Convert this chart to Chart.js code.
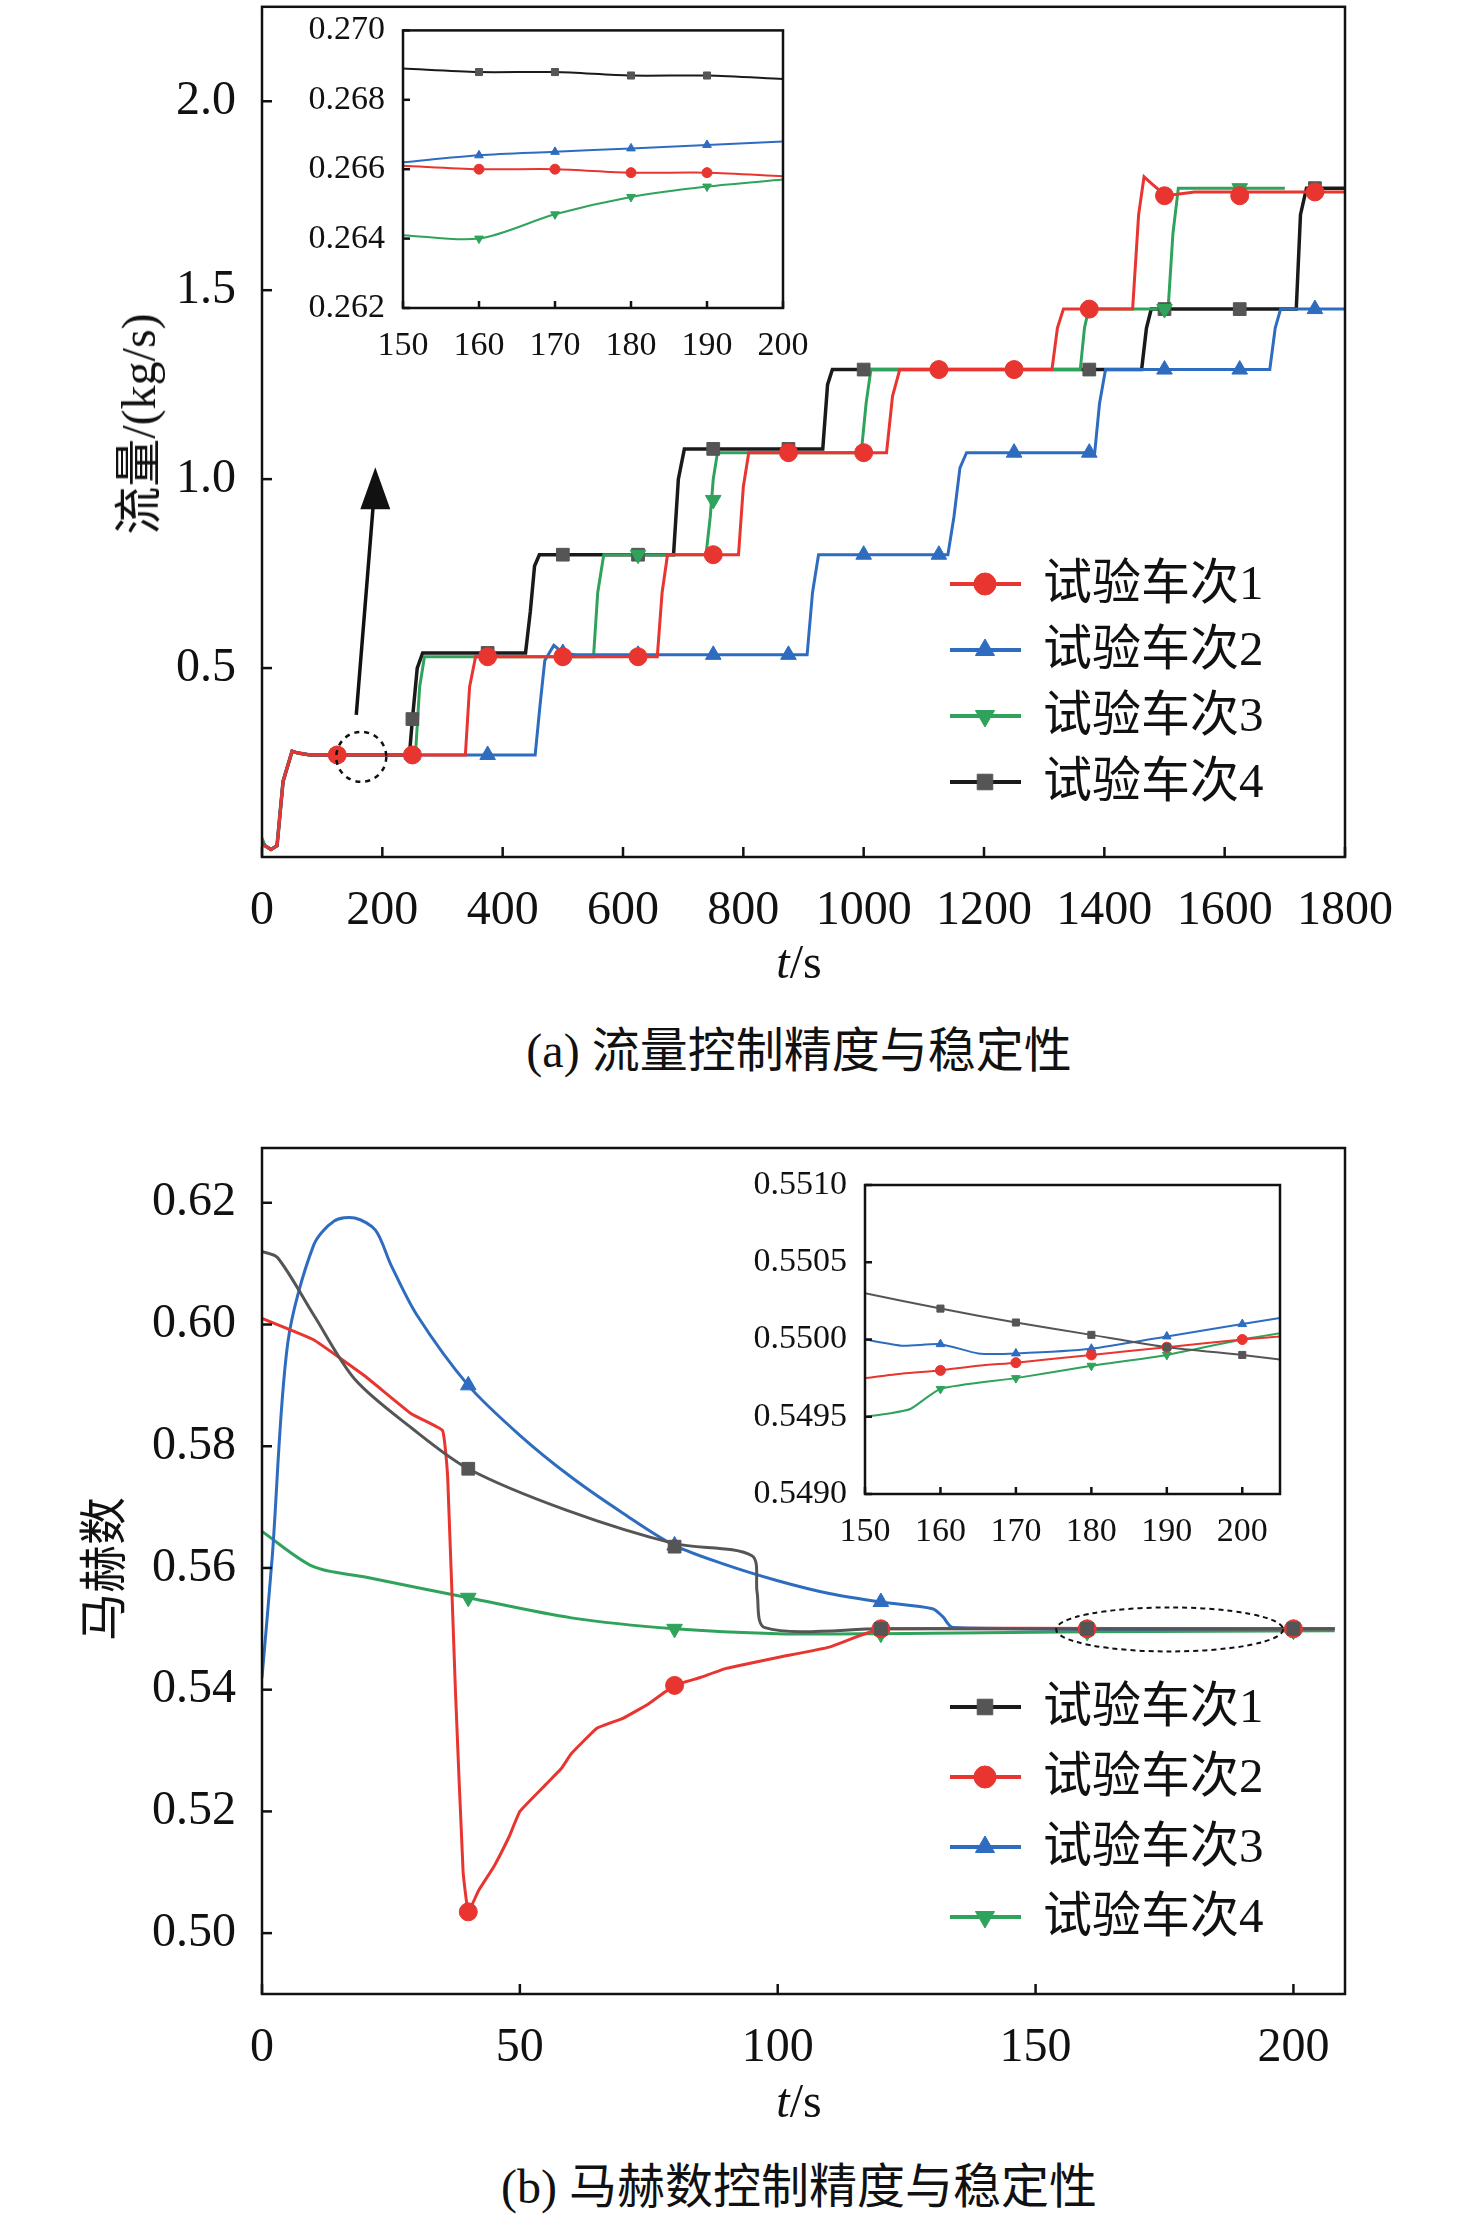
<!DOCTYPE html>
<html>
<head>
<meta charset="utf-8">
<script src="https://cdn.jsdelivr.net/npm/chart.js@4.4.0/dist/chart.umd.min.js"></script>
<style>
  body { margin: 0; width: 1476px; height: 2230px; background: #fff; position: relative; overflow: hidden; }
  canvas { position: absolute; }
  .txt { position: absolute; font-family: "Liberation Serif", "Noto Sans CJK SC", serif; font-size: 48px; color: #111; white-space: nowrap; transform: translate(-50%, -50%); }
</style>
</head>
<body>
<canvas id="flowMain" style="left:0;top:-40px;width:1476px;height:1000px"></canvas>
<canvas id="flowInset" style="left:283px;top:0;width:560px;height:360px"></canvas>
<canvas id="machMain" style="left:0;top:1100px;width:1476px;height:1000px"></canvas>
<canvas id="machInset" style="left:720px;top:1150px;width:620px;height:400px"></canvas>

<div class="txt" style="left:134px;top:424px;transform:translate(-50%,-50%) rotate(-90deg)">流量/(kg/s)</div>
<div class="txt" style="left:799px;top:961px"><i>t</i>/s</div>
<div class="txt" style="left:799px;top:1046px">(a) 流量控制精度与稳定性</div>
<div class="txt" style="left:99px;top:1569px;transform:translate(-50%,-50%) rotate(-90deg)">马赫数</div>
<div class="txt" style="left:799px;top:2100px"><i>t</i>/s</div>
<div class="txt" style="left:799px;top:2182px">(b) 马赫数控制精度与稳定性</div>

<script>
// ---- colours ----
const RED = '#e8352f', BLUE = '#2e6cc0', GREEN = '#2fa35b', BLACK = '#1a1a1a', GRAY = '#555555';

// ---- (a) flow, main ----
const flowLabels = ['试验车次1', '试验车次2', '试验车次3', '试验车次4'];
const flowT1 = [0,5,15,25,35,50,60,80,338,345,355,657,665,674,792,800,809,1038,1048,1060,1313,1322,1332,1447,1457,1466,1480,1502,1550,1800];
const flowV1 = [0.03,0.03,0.02,0.03,0.2,0.28,0.275,0.27,0.27,0.45,0.53,0.53,0.7,0.80,0.80,0.98,1.07,1.07,1.22,1.29,1.29,1.40,1.45,1.45,1.70,1.80,1.78,1.75,1.76,1.76];
const flowT2 = [0,5,15,25,35,50,60,80,454,462,470,485,500,520,906,915,925,1140,1150,1160,1171,1384,1392,1402,1675,1684,1693,1800];
const flowV2 = [0.04,0.03,0.02,0.03,0.2,0.28,0.275,0.27,0.27,0.40,0.52,0.56,0.54,0.535,0.535,0.70,0.80,0.80,0.90,1.03,1.07,1.07,1.20,1.29,1.29,1.40,1.45,1.45];
const flowT3 = [0,5,15,25,35,50,60,80,255,262,270,551,558,568,738,745,750,757,996,1004,1012,1360,1367,1374,1506,1514,1523,1700];
const flowV3 = [0.05,0.03,0.02,0.03,0.2,0.28,0.275,0.27,0.27,0.45,0.53,0.53,0.70,0.80,0.80,0.90,1.00,1.07,1.07,1.20,1.29,1.29,1.40,1.45,1.45,1.65,1.77,1.77];
const flowT4 = [0,5,15,25,35,50,60,80,245,250,258,267,438,446,453,461,684,692,702,932,940,948,1462,1470,1478,1719,1726,1736,1800];
const flowV4 = [0.04,0.03,0.02,0.03,0.2,0.28,0.275,0.27,0.27,0.365,0.50,0.54,0.54,0.65,0.77,0.80,0.80,1.00,1.08,1.08,1.25,1.29,1.29,1.40,1.45,1.45,1.70,1.77,1.77];
// markers every 125 s
const flowMarkT = [125,250,375,500,625,750,875,1000,1125,1250,1375,1500,1625,1750];
const flowMark1 = [0.27,0.27,0.53,0.53,0.53,0.80,1.07,1.07,1.29,1.29,1.45,1.75,1.75,1.76];
const flowMark2 = [0.27,0.27,0.27,0.54,0.535,0.535,0.535,0.80,0.80,1.07,1.07,1.29,1.29,1.45];
const flowMark3 = [0.27,0.27,0.53,0.53,0.80,0.945,1.07,1.07,1.29,1.29,1.45,1.45,1.77];
const flowMark4 = [0.27,0.365,0.54,0.80,0.80,1.08,1.08,1.29,1.29,1.29,1.29,1.45,1.45,1.77];
const flowXTicks = [0,200,400,600,800,1000,1200,1400,1600,1800];
const flowYTicks = [0.5,1.0,1.5,2.0];

// ---- (a) flow, inset 150-200 s ----
const fiT = [150,160,170,180,190,200];
const fi1 = [0.2661,0.2660,0.2660,0.2659,0.2659,0.2658];
const fi2 = [0.2662,0.2664,0.2665,0.2666,0.2667,0.2668];
const fi3 = [0.2641,0.2640,0.2647,0.2652,0.2655,0.2657];
const fi4 = [0.2689,0.2688,0.2688,0.2687,0.2687,0.2686];
const fiMarkT = [160,170,180,190];
const fiXTicks = [150,160,170,180,190,200];
const fiYTicks = [0.262,0.264,0.266,0.268,0.270];

// ---- (b) mach, main ----
const machT1 = [0,3,10,18,29,40,59,80,95,96,97.5,120,208];
const machV1 = [0.612,0.611,0.6016,0.591,0.583,0.5763,0.5695,0.564,0.562,0.556,0.5502,0.5500,0.5500];
const machT2 = [0,10,20,29,35,36,37.5,39,40,42,45,48,50,55,58,60,65,70,75,80,85,90,100,110,120,208];
const machV2 = [0.601,0.5975,0.5915,0.5853,0.5826,0.575,0.54,0.51,0.5035,0.507,0.511,0.516,0.520,0.5244,0.527,0.5295,0.5337,0.5353,0.5377,0.5407,0.542,0.5435,0.5453,0.547,0.550,0.550];
const machT3 = [0,2,5,10,14,18,22,25,30,40,50,60,70,80,90,100,110,120,130,132,134,208];
const machV3 = [0.542,0.562,0.597,0.613,0.617,0.6175,0.6155,0.6098,0.6016,0.590,0.5818,0.5749,0.569,0.5637,0.5605,0.5579,0.5558,0.5544,0.5533,0.552,0.5502,0.5500];
const machT4 = [0,10,20,40,60,80,100,120,160,208];
const machV4 = [0.566,0.5602,0.5585,0.5551,0.5518,0.5500,0.5492,0.5492,0.5495,0.5497];
const machMarkT = [40,80,120,160,200];
const machMark1 = [0.5763,0.5635,0.5500,0.5500,0.5500];
const machMark2 = [0.5035,0.5407,0.5500,0.5500,0.5500];
const machMark3 = [0.5900,0.5637,0.5544,0.5500,0.5500];
const machMark4 = [0.5551,0.5500,0.5492,0.5495,0.5497];
const machXTicks = [0,50,100,150,200];
const machYTicks = [0.50,0.52,0.54,0.56,0.58,0.60,0.62];

// ---- (b) mach, inset 150-205 s ----
const miT1 = [150,160,170,180,190,200,205];
const mi1 = [0.55030,0.55020,0.55011,0.55003,0.54995,0.54990,0.54987];
const miT2 = [150,155,160,165,170,180,190,200,205];
const mi2 = [0.54975,0.54978,0.54980,0.54983,0.54985,0.54990,0.54995,0.55000,0.55002];
const miT3 = [150,155,160,165,170,180,190,200,205];
const mi3 = [0.55000,0.54996,0.54997,0.54991,0.54991,0.54994,0.55002,0.55010,0.55014];
const miT4 = [150,153,156,160,170,180,190,200,205];
const mi4 = [0.54950,0.54952,0.54955,0.54968,0.54975,0.54983,0.54990,0.55000,0.55004];
const miMarkT = [160,170,180,190,200];
const miMark1 = [0.55020,0.55011,0.55003,0.54995,0.54990];
const miMark2 = [0.54980,0.54985,0.54990,0.54995,0.55000];
const miMark3 = [0.54997,0.54991,0.54994,0.55002,0.55010];
const miMark4 = [0.54968,0.54975,0.54983,0.54990,0.55000];
const miXTicks = [150,160,170,180,190,200];
const miYTicks = [0.5490,0.5495,0.5500,0.5505,0.5510];

const SHAPE = {};
SHAPE[RED] = ['circle', 0];
SHAPE[BLUE] = ['triangle', 0];
SHAPE[GREEN] = ['triangle', 180];
SHAPE[BLACK] = ['rect', 0];

function pts(t, v) { return t.map((x, i) => ({ x: x, y: v[i] })).filter(p => p.y !== undefined); }

function lineSet(t, v, color, width, tension) {
  return { data: pts(t, v), borderColor: color, borderWidth: width, pointRadius: 0,
           tension: tension, cubicInterpolationMode: 'default', order: 2 };
}
function markSet(t, v, color, r) {
  const c = color === BLACK ? GRAY : color;
  return { data: pts(t, v), showLine: false, pointStyle: SHAPE[color][0], rotation: SHAPE[color][1],
           pointRadius: r, backgroundColor: c, borderColor: c, borderWidth: 1, order: 1 };
}

// frame, inward ticks, legend, annotations
const deco = {
  id: 'deco',
  beforeDraw(chart) {
    const a = chart.chartArea, ctx = chart.ctx;
    ctx.save(); ctx.fillStyle = '#fff';
    ctx.fillRect(a.left, a.top, a.right - a.left, a.bottom - a.top);
    ctx.restore();
  },
  afterDraw(chart, args, o) {
    const a = chart.chartArea, ctx = chart.ctx, xs = chart.scales.x, ys = chart.scales.y;
    ctx.save();
    ctx.strokeStyle = '#111'; ctx.lineWidth = o.frame;
    ctx.strokeRect(a.left, a.top, a.right - a.left, a.bottom - a.top);
    o.xt.forEach(v => { const p = xs.getPixelForValue(v); ctx.beginPath(); ctx.moveTo(p, a.bottom); ctx.lineTo(p, a.bottom - o.tl); ctx.stroke(); });
    o.yt.forEach(v => { const p = ys.getPixelForValue(v); ctx.beginPath(); ctx.moveTo(a.left, p); ctx.lineTo(a.left + o.tl, p); ctx.stroke(); });
    if (o.legend) {
      const L = o.legend;
      ctx.font = '49px "Liberation Serif", "Noto Sans CJK SC", serif';
      ctx.textBaseline = 'middle';
      L.items.forEach((it, i) => {
        const y = L.y + i * L.step;
        ctx.strokeStyle = it[1]; ctx.lineWidth = 4;
        ctx.beginPath(); ctx.moveTo(L.x, y); ctx.lineTo(L.x + 71, y); ctx.stroke();
        const c = it[1] === BLACK ? GRAY : it[1];
        ctx.fillStyle = c; ctx.strokeStyle = c; ctx.lineWidth = 1;
        Chart.helpers.drawPoint(ctx, { pointStyle: SHAPE[it[1]][0], rotation: SHAPE[it[1]][1], radius: 11, borderWidth: 1 }, L.x + 35, y);
        ctx.fillStyle = '#111';
        ctx.fillText(it[0], L.x + 93, y + 2);
      });
    }
    if (o.note) o.note(ctx, xs, ys);
    ctx.restore();
  }
};

function tickFont(size) { return { family: '"Liberation Serif", serif', size: size }; }

function makeChart(id, datasets, xr, yr, xt, yt, fs, yw, xh, pad, fmt, o) {
  new Chart(document.getElementById(id), {
    type: 'line',
    data: { datasets: datasets },
    options: {
      responsive: false, animation: false, events: [],
      layout: { padding: pad },
      plugins: { legend: { display: false }, tooltip: { enabled: false }, deco: o },
      scales: {
        x: { type: 'linear', min: xr[0], max: xr[1], grid: { display: false }, border: { display: false },
             afterBuildTicks: s => { s.ticks = xt.map(v => ({ value: v })); },
             afterFit: s => { s.height = xh; },
             ticks: { font: tickFont(fs), color: '#111', padding: o.lp, maxRotation: 0, autoSkip: false, callback: v => String(v) } },
        y: { min: yr[0], max: yr[1], grid: { display: false }, border: { display: false },
             afterBuildTicks: s => { s.ticks = yt.map(v => ({ value: v })); },
             afterFit: s => { s.width = yw; },
             ticks: { font: tickFont(fs), color: '#111', padding: o.lp, autoSkip: false, callback: v => v.toFixed(fmt) } }
      }
    },
    plugins: [deco]
  });
}

function sizeCanvas(id) {
  const c = document.getElementById(id);
  c.width = parseInt(c.style.width); c.height = parseInt(c.style.height);
}
['flowMain', 'flowInset', 'machMain', 'machInset'].forEach(sizeCanvas);

// (a) main
makeChart('flowMain', [
  lineSet(flowT1, flowV1, RED, 3, 0), lineSet(flowT2, flowV2, BLUE, 3, 0),
  lineSet(flowT3, flowV3, GREEN, 3, 0), lineSet(flowT4, flowV4, BLACK, 3.5, 0),
  markSet(flowMarkT, flowMark1, RED, 9), markSet(flowMarkT, flowMark2, BLUE, 9),
  markSet(flowMarkT, flowMark3, GREEN, 9), markSet(flowMarkT, flowMark4, BLACK, 9)
], [0, 1800], [0, 2.25], flowXTicks, flowYTicks, 48, 262, 103, { left: 0, right: 131, top: 43, bottom: 0 }, 1, {
  frame: 2.5, tl: 10, lp: 18, xt: flowXTicks, yt: flowYTicks,
  legend: { x: 950, y: 624, step: 66, items: [[flowLabels[0], RED], [flowLabels[1], BLUE], [flowLabels[2], GREEN], [flowLabels[3], BLACK]] },
  note(ctx, xs, ys) {
    const cx = xs.getPixelForValue(165), cy = ys.getPixelForValue(0.265);
    ctx.setLineDash([5, 5]); ctx.lineWidth = 2.5; ctx.strokeStyle = '#111';
    ctx.beginPath(); ctx.arc(cx, cy, 25, 0, Math.PI * 2); ctx.stroke();
    ctx.setLineDash([]); ctx.lineWidth = 3.5;
    const x0 = cx - 5, y0 = cy - 42, x1 = xs.getPixelForValue(185), y1 = ys.getPixelForValue(1.0);
    ctx.beginPath(); ctx.moveTo(x0, y0); ctx.lineTo(x1, y1 + 25); ctx.stroke();
    ctx.fillStyle = '#111'; ctx.beginPath();
    ctx.moveTo(x1 + 2, y1 - 12); ctx.lineTo(x1 - 13, y1 + 30); ctx.lineTo(x1 + 17, y1 + 30); ctx.closePath(); ctx.fill();
  }
});

// (a) inset
makeChart('flowInset', [
  lineSet(fiT, fi1, RED, 2, 0.3), lineSet(fiT, fi2, BLUE, 2, 0.3),
  lineSet(fiT, fi3, GREEN, 2, 0.3), lineSet(fiT, fi4, BLACK, 2, 0.3),
  markSet(fiMarkT, fi1.slice(1, 5), RED, 5), markSet(fiMarkT, fi2.slice(1, 5), BLUE, 5),
  markSet(fiMarkT, fi3.slice(1, 5), GREEN, 5), markSet(fiMarkT, fi4.slice(1, 5), BLACK, 5)
], [150, 200], [0.262, 0.270], fiXTicks, fiYTicks, 34, 120, 52, { left: 0, right: 60, top: 28, bottom: 0 }, 3, {
  frame: 2.5, tl: 7, lp: 10, xt: fiXTicks, yt: fiYTicks
});

// (b) main
makeChart('machMain', [
  lineSet(machT1, machV1, GRAY, 3, 0.3), lineSet(machT2, machV2, RED, 3, 0.1),
  lineSet(machT3, machV3, BLUE, 3, 0.3), lineSet(machT4, machV4, GREEN, 3, 0.3),
  markSet(machMarkT, machMark1, BLACK, 9), markSet(machMarkT, machMark2, RED, 9),
  markSet(machMarkT, machMark3, BLUE, 9), markSet(machMarkT, machMark4, GREEN, 9)
], [0, 210], [0.49, 0.629], machXTicks, machYTicks, 48, 262, 106, { left: 0, right: 131, top: 48, bottom: 0 }, 2, {
  frame: 2.5, tl: 10, lp: 18, xt: machXTicks, yt: machYTicks,
  legend: { x: 950, y: 607, step: 70, items: [[flowLabels[0], BLACK], [flowLabels[1], RED], [flowLabels[2], BLUE], [flowLabels[3], GREEN]] },
  note(ctx, xs, ys) {
    const cx = xs.getPixelForValue(176), cy = ys.getPixelForValue(0.5499);
    const rx = xs.getPixelForValue(198) - cx;
    ctx.setLineDash([5, 4]); ctx.lineWidth = 2; ctx.strokeStyle = '#111';
    ctx.beginPath(); ctx.ellipse(cx, cy, rx, 22, 0, 0, Math.PI * 2); ctx.stroke();
  }
});

// (b) inset
makeChart('machInset', [
  lineSet(miT1, mi1, GRAY, 2, 0.2), lineSet(miT2, mi2, RED, 2, 0.2),
  lineSet(miT3, mi3, BLUE, 2, 0.2), lineSet(miT4, mi4, GREEN, 2, 0.2),
  markSet(miMarkT, miMark1, BLACK, 5), markSet(miMarkT, miMark2, RED, 5),
  markSet(miMarkT, miMark3, BLUE, 5), markSet(miMarkT, miMark4, GREEN, 5)
], [150, 205], [0.549, 0.551], miXTicks, miYTicks, 34, 145, 56, { left: 0, right: 60, top: 35, bottom: 0 }, 4, {
  frame: 2.5, tl: 7, lp: 10, xt: miXTicks, yt: miYTicks
});
</script>
</body>
</html>
